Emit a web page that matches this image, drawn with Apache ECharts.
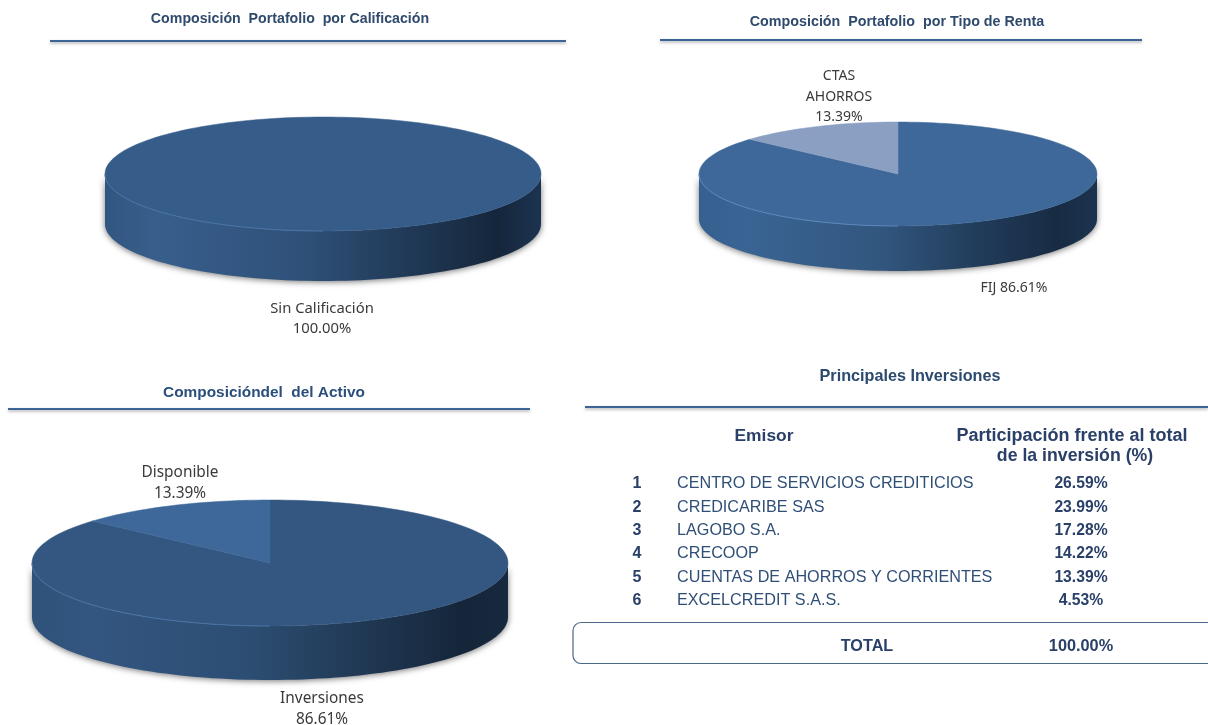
<!DOCTYPE html>
<html><head><meta charset="utf-8">
<style>html,body{margin:0;padding:0;background:#fff}#c{width:1208px;height:725px}</style>
<script src="https://cdn.jsdelivr.net/npm/echarts@6/dist/echarts.min.js"></script>
</head><body><div id="c"></div>
<script>
// ---- data ----
const calificacionNames = ['Sin Calificación'];
const calificacionValues = [100.00];
const rentaNames = ['FIJ', 'CTAS\nAHORROS'];
const rentaValues = [86.61, 13.39];
const activoNames = ['Inversiones', 'Disponible'];
const activoValues = [86.61, 13.39];
const emisorRanks = ['1', '2', '3', '4', '5', '6'];
const emisorNames = ['CENTRO DE SERVICIOS CREDITICIOS', 'CREDICARIBE SAS', 'LAGOBO S.A.', 'CRECOOP', 'CUENTAS DE AHORROS Y CORRIENTES', 'EXCELCREDIT S.A.S.'];
const emisorValues = [26.59, 23.99, 17.28, 14.22, 13.39, 4.53];
const totalValue = 100.00;

// ---- layout ----
const pies = [
  { names: calificacionNames, values: calificacionValues, cx: 323, cy: 174, rx: 218, ry: 57, depth: 50, font: 14.8,
    colors: ['#365c8a'], edge: '#4a74a6',
    side: ['#315680', '#385e8c', '#2f5179', '#1f3753', '#15263b', '#1c3350'],
    labels: [{ x: 322, y: 319, sep: '\n' }] },
  { names: rentaNames, values: rentaValues, cx: 898, cy: 174, rx: 199, ry: 52, depth: 45, font: 14,
    colors: ['#3d6899', '#8a9fc2'], edge: '#5c87b8',
    side: ['#35608f', '#3a6494', '#32577f', '#203a58', '#182b43', '#1c334f'],
    labels: [{ x: 1014, y: 288, sep: ' ' }, { x: 839, y: 97, sep: '\n' }] },
  { names: activoNames, values: activoValues, cx: 270, cy: 563, rx: 238, ry: 63, depth: 54, font: 15.4,
    colors: ['#345781', '#3d6899'], edge: '#4a74a6',
    side: ['#2f527a', '#335680', '#2d4e73', '#1f3651', '#15263a', '#17293e'],
    labels: [{ x: 322, y: 709, sep: '\n' }, { x: 180, y: 483, sep: '\n' }] }
];
const STEPS = 180;
const ink = '#2f4f77';
const inkBold = '#2a4068';

function ellipsePoint(p, frac, dy) {
  const a = frac * 2 * Math.PI;
  return [p.cx + p.rx * Math.sin(a), p.cy - p.ry * Math.cos(a) + (dy || 0)];
}
function arcPoints(p, f0, f1, dy) {
  const n = Math.max(2, Math.ceil(Math.abs(f1 - f0) * STEPS));
  const pts = [];
  for (let i = 0; i <= n; i++) pts.push(ellipsePoint(p, f0 + (f1 - f0) * i / n, dy));
  return pts;
}
function fmt(v) { return v.toFixed(2) + '%'; }

function pieSeries(p) {
  const total = p.values.reduce((a, b) => a + b, 0);
  return {
    type: 'custom',
    coordinateSystem: 'none',
    silent: true,
    animation: false,
    data: p.values,
    renderItem(params, api) {
      const i = params.dataIndex;
      const v = api.value(0);
      const before = p.values.slice(0, i).reduce((a, b) => a + b, 0);
      const f0 = before / total, f1 = (before + v) / total;
      const children = [];
      if (i === 0) {
        const front = arcPoints(p, 0.25, 0.75, 0);
        const back = arcPoints(p, 0.75, 0.25, p.depth);
        const stops = p.side.map((c, k) => ({ offset: [0, 0.12, 0.45, 0.72, 0.9, 1][k], color: c }));
        children.push({
          type: 'polygon', shape: { points: front.concat(back) },
          style: { fill: { type: 'linear', x: 0, y: 0, x2: 1, y2: 0, colorStops: stops },
            shadowBlur: 6, shadowColor: 'rgba(0,0,0,0.55)', shadowOffsetY: 1 }
        });
      }
      const full = (f1 - f0) >= 0.9999;
      const pts = arcPoints(p, f0, f1, 0);
      if (!full) pts.push([p.cx, p.cy]);
      children.push({ type: 'polygon', shape: { points: pts },
        style: { fill: p.colors[i % p.colors.length], stroke: p.colors[i % p.colors.length], lineWidth: 0.5 } });
      if (i === 0) {
        children.push({ type: 'polyline', shape: { points: arcPoints(p, 0.5, 0.75, 0) },
          style: { fill: null, stroke: p.edge, lineWidth: 1 } });
      }
      const l = p.labels[i];
      children.push({ type: 'text', x: l.x, y: l.y,
        style: { text: p.names[i] + l.sep + fmt(v), font: p.font + 'px "Noto Sans"', fill: '#3a3a3a', align: 'center', verticalAlign: 'middle', lineHeight: 20.5 } });
      return { type: 'group', children };
    }
  };
}

// ---- headings, rules and the table ----
const headings = [
  { text: 'Composición  Portafolio  por Calificación', x: 290, y: 19, size: 14.2, color: '#2f4a6d', rule: [50, 566, 41] },
  { text: 'Composición  Portafolio  por Tipo de Renta', x: 897, y: 22, size: 14.3, color: '#2f4a6d', rule: [660, 1142, 40] },
  { text: 'Composicióndel  del Activo', x: 264, y: 393, size: 15.4, color: '#2b4f7c', rule: [8, 530, 409] },
  { text: 'Principales Inversiones', x: 910, y: 377, size: 16.2, color: '#2b4a6d', rule: [585, 1208, 407] }
];
const rowY = [484, 508, 531, 554, 578, 601];
const g = [];
function txt(text, x, y, size, bold, align, color) {
  g.push({ type: 'text', x, y, silent: true,
    style: { text, font: (bold ? 'bold ' : '') + size + 'px "Liberation Sans"', fill: color || ink, align: align || 'center', verticalAlign: 'middle' } });
}
headings.forEach(h => {
  txt(h.text, h.x, h.y, h.size, true, 'center', h.color);
  g.push({ type: 'line', silent: true, shape: { x1: h.rule[0], y1: h.rule[2], x2: h.rule[1], y2: h.rule[2] },
    style: { stroke: '#3c6496', lineWidth: 2, shadowBlur: 3, shadowColor: 'rgba(0,0,0,0.35)', shadowOffsetY: 1.5 } });
});
txt('Emisor', 764, 436, 17.4, true, 'center', inkBold);
txt('Participación frente al total', 1072, 436, 18, true, 'center', inkBold);
txt('de la inversión (%)', 1075, 456, 17.7, true, 'center', inkBold);
emisorNames.forEach((n, i) => {
  txt(emisorRanks[i], 637, rowY[i], 16, true, 'center', inkBold);
  txt(n, 677, rowY[i], 16.2, false, 'left');
  txt(fmt(emisorValues[i]), 1081, rowY[i], 15.7, true, 'center', inkBold);
});
g.push({ type: 'rect', silent: true, shape: { x: 573, y: 622.5, width: 660, height: 41, r: 8 },
  style: { fill: 'none', stroke: '#4a6789', lineWidth: 1.2 } });
txt('TOTAL', 867, 647, 16.2, true, 'center', inkBold);
txt(fmt(totalValue), 1081, 647, 16.3, true, 'center', inkBold);

const chart = echarts.init(document.getElementById('c'), null, { width: 1208, height: 725 });
chart.setOption({
  backgroundColor: '#ffffff',
  animation: false,
  series: pies.map(pieSeries),
  graphic: { elements: g }
});
</script></body></html>
